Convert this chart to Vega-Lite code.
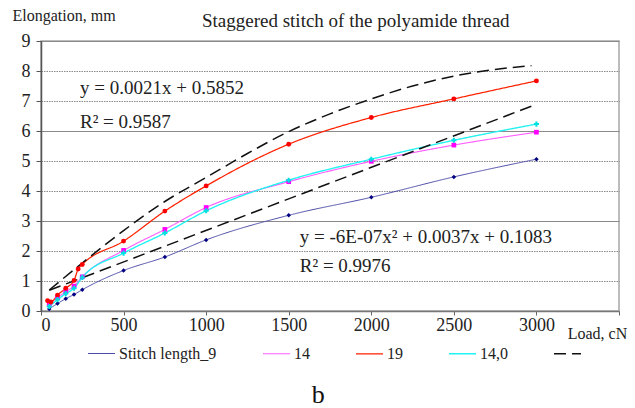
{
  "$schema": "https://vega.github.io/schema/vega-lite/v6.json",
  "width": 578,
  "height": 270,
  "autosize": "none",
  "padding": {"left": 41, "top": 41, "right": 16, "bottom": 97},
  "background": "white",
  "config": {
    "view": {"stroke": "#a6a6a6", "strokeWidth": 1.5},
    "font": "Liberation Serif",
    "axis": {"labelFont": "Liberation Serif", "titleFont": "Liberation Serif"},
    "legend": {"labelFont": "Liberation Serif", "titleFont": "Liberation Serif"},
    "text": {"font": "Liberation Serif"}
  },
  "datasets": {
    "curves": [
      {"series": "Stitch length_9", "line": "s9", "x": 50, "y": 0.07},
      {"series": "Stitch length_9", "line": "s9", "x": 100, "y": 0.25},
      {"series": "Stitch length_9", "line": "s9", "x": 150, "y": 0.41},
      {"series": "Stitch length_9", "line": "s9", "x": 200, "y": 0.55},
      {"series": "Stitch length_9", "line": "s9", "x": 250, "y": 0.71},
      {"series": "Stitch length_9", "line": "s9", "x": 500, "y": 1.35},
      {"series": "Stitch length_9", "line": "s9", "x": 750, "y": 1.8},
      {"series": "Stitch length_9", "line": "s9", "x": 1000, "y": 2.37},
      {"series": "Stitch length_9", "line": "s9", "x": 1500, "y": 3.19},
      {"series": "Stitch length_9", "line": "s9", "x": 2000, "y": 3.79},
      {"series": "Stitch length_9", "line": "s9", "x": 2500, "y": 4.47},
      {"series": "Stitch length_9", "line": "s9", "x": 3000, "y": 5.06},
      {"series": "14", "line": "s14", "x": 50, "y": 0.22},
      {"series": "14", "line": "s14", "x": 100, "y": 0.45},
      {"series": "14", "line": "s14", "x": 150, "y": 0.64},
      {"series": "14", "line": "s14", "x": 200, "y": 0.83},
      {"series": "14", "line": "s14", "x": 250, "y": 1.14},
      {"series": "14", "line": "s14", "x": 500, "y": 2.02},
      {"series": "14", "line": "s14", "x": 750, "y": 2.72},
      {"series": "14", "line": "s14", "x": 1000, "y": 3.45},
      {"series": "14", "line": "s14", "x": 1500, "y": 4.31},
      {"series": "14", "line": "s14", "x": 2000, "y": 4.99},
      {"series": "14", "line": "s14", "x": 2500, "y": 5.53},
      {"series": "14", "line": "s14", "x": 3000, "y": 5.96},
      {"series": "19", "line": "s19", "x": 40, "y": 0.34},
      {"series": "19", "line": "s19", "x": 60, "y": 0.3},
      {"series": "19", "line": "s19", "x": 100, "y": 0.53},
      {"series": "19", "line": "s19", "x": 150, "y": 0.76},
      {"series": "19", "line": "s19", "x": 200, "y": 1.02},
      {"series": "19", "line": "s19", "x": 225, "y": 1.4},
      {"series": "19", "line": "s19", "x": 250, "y": 1.55},
      {"series": "19", "line": "s19", "x": 500, "y": 2.33},
      {"series": "19", "line": "s19", "x": 750, "y": 3.33},
      {"series": "19", "line": "s19", "x": 1000, "y": 4.17},
      {"series": "19", "line": "s19", "x": 1500, "y": 5.56},
      {"series": "19", "line": "s19", "x": 2000, "y": 6.45},
      {"series": "19", "line": "s19", "x": 2500, "y": 7.07},
      {"series": "19", "line": "s19", "x": 3000, "y": 7.67},
      {"series": "14,0", "line": "s140", "x": 50, "y": 0.15},
      {"series": "14,0", "line": "s140", "x": 100, "y": 0.38},
      {"series": "14,0", "line": "s140", "x": 150, "y": 0.58},
      {"series": "14,0", "line": "s140", "x": 200, "y": 0.76},
      {"series": "14,0", "line": "s140", "x": 250, "y": 1.12},
      {"series": "14,0", "line": "s140", "x": 500, "y": 1.93},
      {"series": "14,0", "line": "s140", "x": 750, "y": 2.6},
      {"series": "14,0", "line": "s140", "x": 1000, "y": 3.34},
      {"series": "14,0", "line": "s140", "x": 1500, "y": 4.36},
      {"series": "14,0", "line": "s140", "x": 2000, "y": 5.06},
      {"series": "14,0", "line": "s140", "x": 2500, "y": 5.69},
      {"series": "14,0", "line": "s140", "x": 3000, "y": 6.23},
      {"series": " ", "line": "upper", "x": 50, "y": 0.7},
      {"series": " ", "line": "upper", "x": 250, "y": 1.6},
      {"series": " ", "line": "upper", "x": 500, "y": 2.68},
      {"series": " ", "line": "upper", "x": 750, "y": 3.65},
      {"series": " ", "line": "upper", "x": 1000, "y": 4.45},
      {"series": " ", "line": "upper", "x": 1250, "y": 5.25},
      {"series": " ", "line": "upper", "x": 1500, "y": 5.98},
      {"series": " ", "line": "upper", "x": 1750, "y": 6.57},
      {"series": " ", "line": "upper", "x": 2000, "y": 7.07},
      {"series": " ", "line": "upper", "x": 2250, "y": 7.5},
      {"series": " ", "line": "upper", "x": 2500, "y": 7.83},
      {"series": " ", "line": "upper", "x": 2750, "y": 8.05},
      {"series": " ", "line": "upper", "x": 2970, "y": 8.18},
      {"series": " ", "line": "lower", "x": 50, "y": 0.69},
      {"series": " ", "line": "lower", "x": 3000, "y": 6.89}
    ]
  },
  "encoding": {
    "x": {
      "field": "x", "type": "quantitative",
      "scale": {"domain": [0, 3500], "nice": false, "zero": false},
      "axis": {
        "title": "Load, cN",
        "titleX": 556, "titleY": 22, "titleAlign": "center", "titleBaseline": "middle",
        "titleFont": "Liberation Serif", "titleFontSize": 16, "titleFontWeight": "normal", "titleColor": "#222",
        "values": [0, 500, 1000, 1500, 2000, 2500, 3000, 3500],
        "labelExpr": "datum.value == 3500 ? '' : datum.label",
        "format": "d",
        "labelFont": "Liberation Serif", "labelFontSize": 18, "labelColor": "#222",
        "labelPadding": 1, "tickSize": 4, "tickColor": "#666", "domainColor": "#777", "domainWidth": 1.5,
        "grid": false
      }
    },
    "y": {
      "field": "y", "type": "quantitative",
      "scale": {"domain": [0, 9], "nice": false, "zero": false},
      "axis": {
        "title": "Elongation, mm",
        "titleAngle": 0, "titleX": -29, "titleY": -26, "titleAlign": "left", "titleBaseline": "middle",
        "titleFont": "Liberation Serif", "titleFontSize": 16, "titleFontWeight": "normal", "titleColor": "#222",
        "values": [0, 1, 2, 3, 4, 5, 6, 7, 8, 9],
        "labelFont": "Liberation Serif", "labelFontSize": 18, "labelColor": "#222",
        "labelPadding": 6, "tickSize": 5, "tickColor": "#555", "domainColor": "#555", "domainWidth": 1.5,
        "grid": true,
        "gridColor": "#8a8a8a",
        "gridWidth": 1,
        "gridDash": {"condition": {"test": "datum.value % 3 === 0", "value": []}, "value": [1.5, 1]}
      }
    }
  },
  "layer": [
    {
      "data": {"name": "curves"},
      "mark": {"type": "line", "interpolate": "monotone"},
      "encoding": {
        "color": {
          "field": "series", "type": "nominal",
          "scale": {
            "domain": ["Stitch length_9", "14", "19", "14,0", " "],
            "range": ["#4b4ba8", "#ff5cff", "#ff2200", "#22f2f2", "#111111"]
          },
          "legend": {
            "title": null, "orient": "none", "legendX": 46, "legendY": 298,
            "direction": "horizontal", "columns": 5, "columnPadding": 43,
            "symbolType": "stroke", "symbolSize": 729, "symbolStrokeWidth": 2.5,
            "labelFont": "Liberation Serif", "labelFontSize": 16, "labelColor": "#222", "labelOffset": 3
          }
        },
        "strokeDash": {
          "field": "series", "type": "nominal",
          "scale": {
            "domain": ["Stitch length_9", "14", "19", "14,0", " "],
            "range": [[1, 0], [1, 0], [1, 0], [1, 0], [12, 6]]
          },
          "legend": {
            "title": null, "orient": "none", "legendX": 46, "legendY": 298,
            "direction": "horizontal", "columns": 5, "columnPadding": 43,
            "symbolType": "stroke", "symbolSize": 729, "symbolStrokeWidth": 2.5,
            "labelFont": "Liberation Serif", "labelFontSize": 16, "labelColor": "#222", "labelOffset": 3
          }
        },
        "strokeWidth": {
          "field": "series", "type": "nominal",
          "scale": {
            "domain": ["Stitch length_9", "14", "19", "14,0", " "],
            "range": [1, 1.5, 2, 1.5, 2.5]
          },
          "legend": null
        },
        "detail": {"field": "line", "type": "nominal"}
      }
    },
    {
      "data": {"name": "curves"},
      "transform": [{"filter": "datum.series !== ' '"}],
      "mark": {"type": "point", "filled": true, "opacity": 1},
      "encoding": {
        "fill": {
          "field": "series", "type": "nominal",
          "scale": {"domain": ["Stitch length_9", "14", "19", "14,0"], "range": ["#000080", "#ff00ff", "#ff0000", "#00e0e0"]},
          "legend": null
        },
        "shape": {
          "field": "series", "type": "nominal",
          "scale": {"domain": ["Stitch length_9", "14", "19", "14,0"], "range": ["diamond", "square", "circle", "cross"]},
          "legend": null
        },
        "size": {
          "field": "series", "type": "nominal",
          "scale": {"domain": ["Stitch length_9", "14", "19", "14,0"], "range": [20, 26, 32, 28]},
          "legend": null
        }
      }
    },
    {
      "data": {"values": [
        {"label": "y = 0.0021x + 0.5852", "x": 236, "y": 7.22},
        {"label": "R² = 0.9587", "x": 236, "y": 6.11},
        {"label": "y = -6E-07x² + 0.0037x + 0.1083", "x": 1567, "y": 2.26},
        {"label": "R² = 0.9976", "x": 1567, "y": 1.29}
      ]},
      "mark": {"type": "text", "font": "Liberation Serif", "fontSize": 19, "align": "left", "baseline": "alphabetic", "color": "#222"},
      "encoding": {
        "text": {"field": "label", "type": "nominal"}
      }
    },
    {
      "data": {"values": [
        {"label": "Staggered stitch of the polyamide thread", "x": 1906, "y": 9.47}
      ]},
      "mark": {"type": "text", "font": "Liberation Serif", "fontSize": 19, "align": "center", "baseline": "alphabetic", "color": "#222"},
      "encoding": {
        "text": {"field": "label", "type": "nominal"}
      }
    },
    {
      "data": {"values": [
        {"label": "b", "x": 1679, "y": -3.07}
      ]},
      "mark": {"type": "text", "font": "Liberation Serif", "fontSize": 26, "align": "center", "baseline": "alphabetic", "color": "#111"},
      "encoding": {
        "text": {"field": "label", "type": "nominal"}
      }
    }
  ]
}
